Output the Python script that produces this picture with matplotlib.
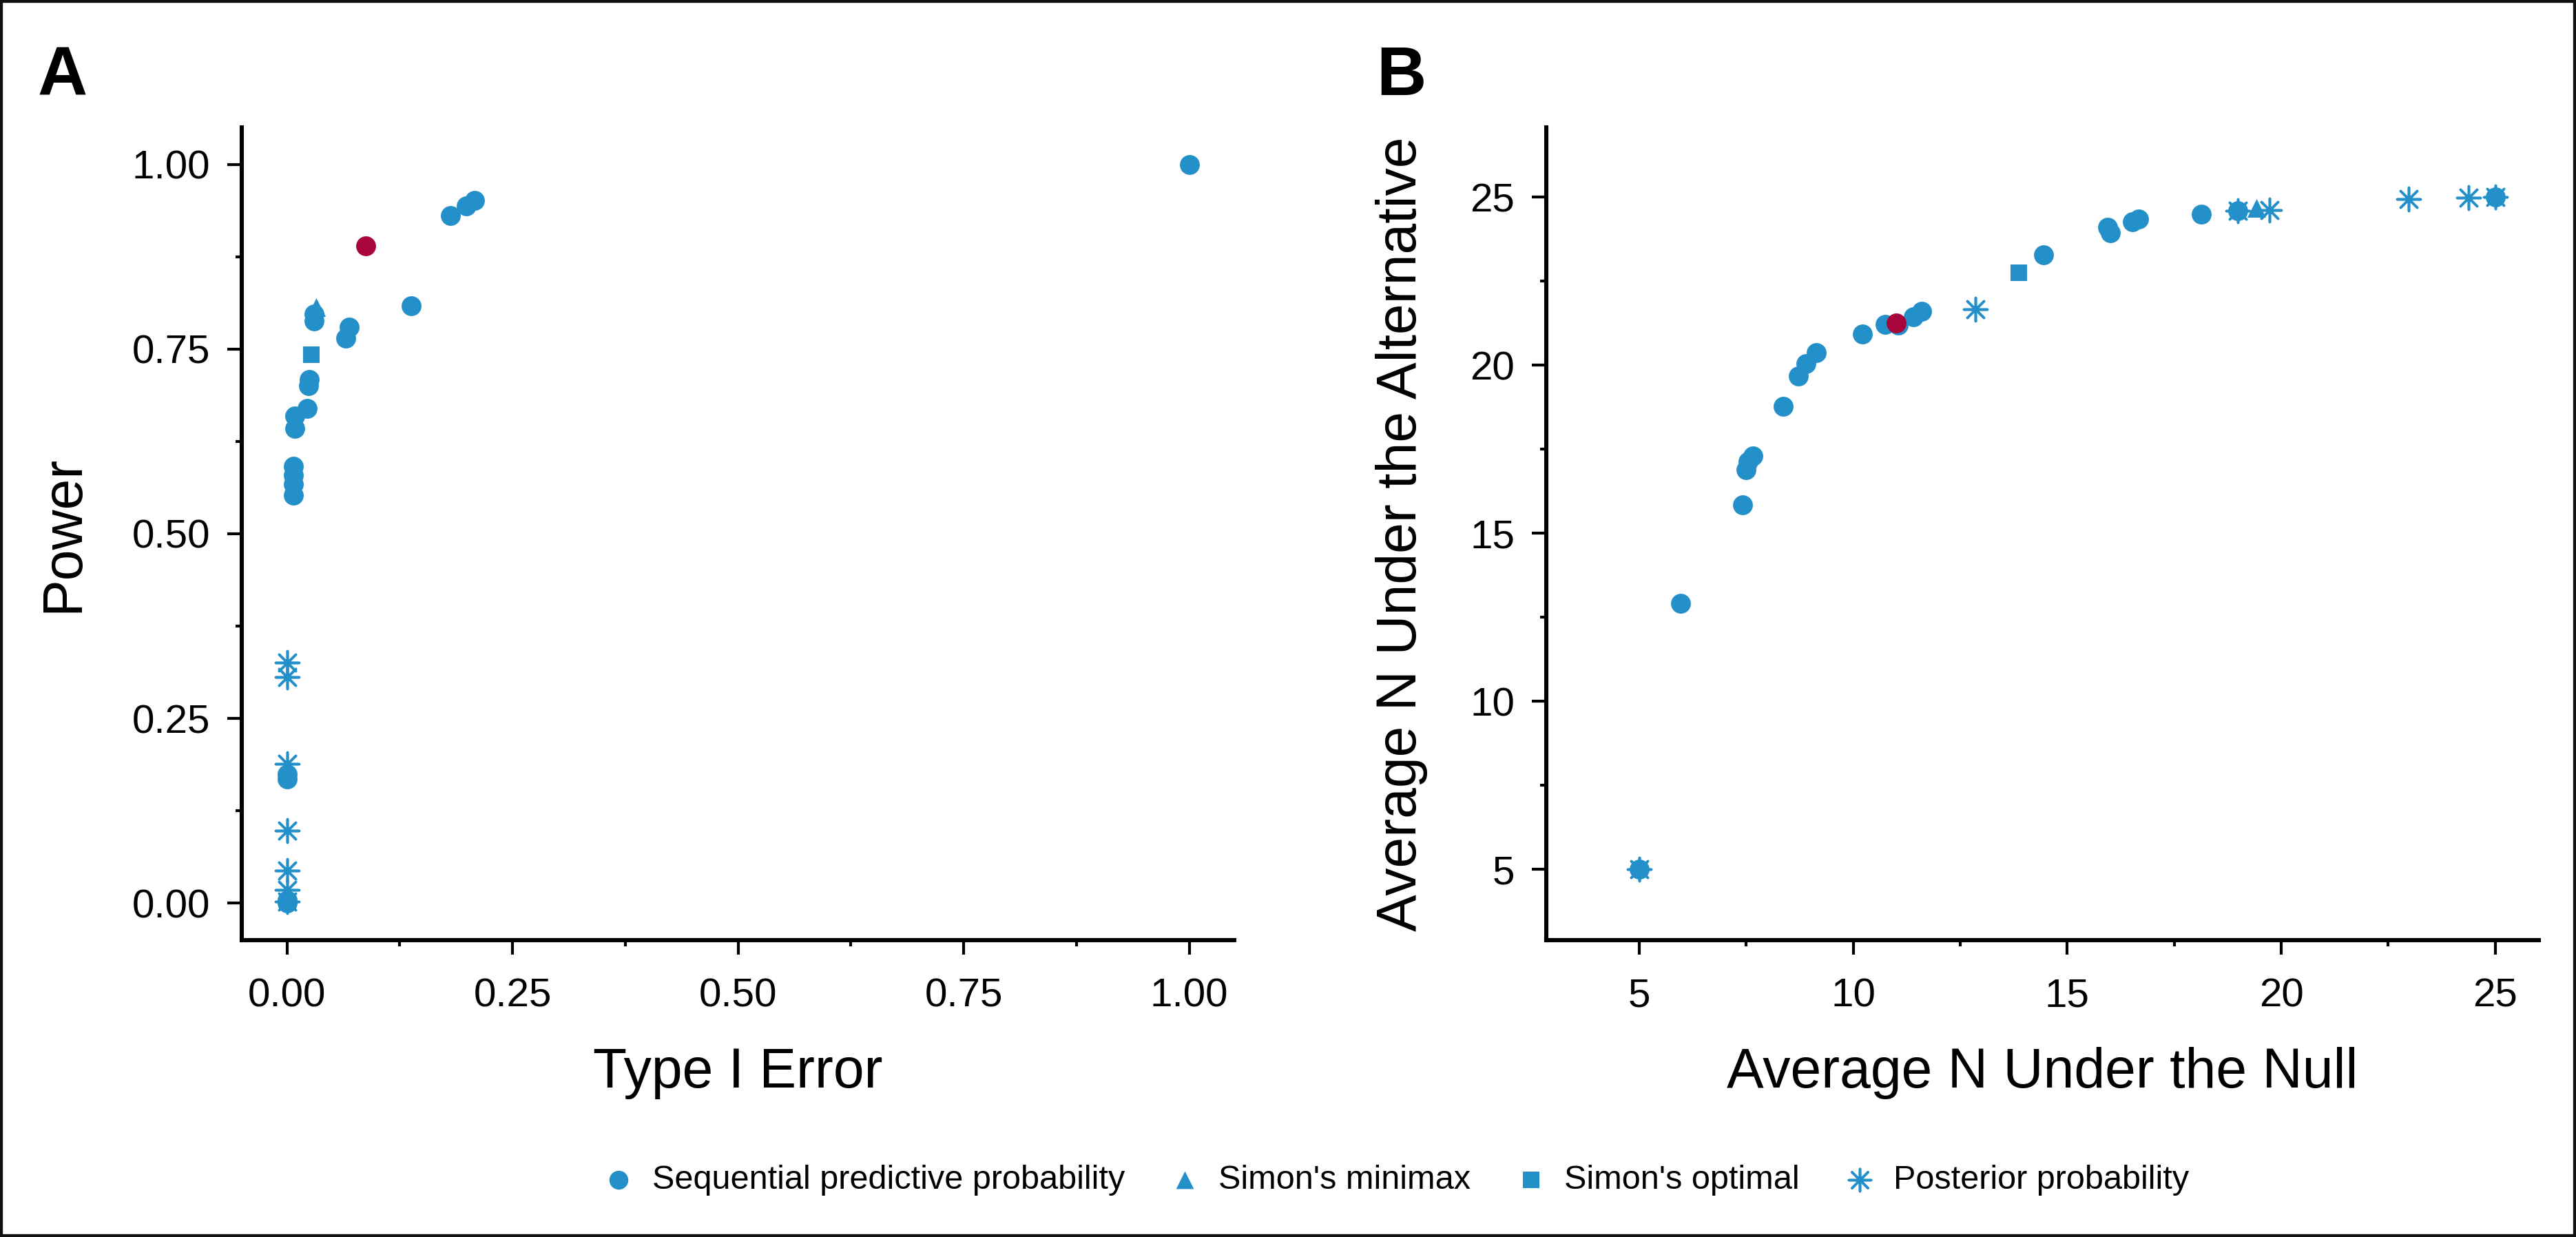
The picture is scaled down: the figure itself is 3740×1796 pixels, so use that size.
import matplotlib

matplotlib.use("Agg")
import matplotlib.pyplot as plt
from matplotlib.patches import Rectangle
from matplotlib.ticker import FixedLocator

plt.rcParams["font.family"] = ["Liberation Sans", "DejaVu Sans"]

BLUE = "#2490C9"
RED = "#A8063A"

# Panel A: type I error vs power
a_seq_x = [1.0, 0.208, 0.199, 0.181, 0.138, 0.030, 0.030, 0.069, 0.065, 0.025, 0.024,
           0.022, 0.009, 0.009, 0.007, 0.007, 0.007, 0.007, 0.0, 0.0, 0.0, 0.0]
a_seq_y = [1.0, 0.951, 0.944, 0.931, 0.809, 0.797, 0.788, 0.780, 0.765, 0.709, 0.700,
           0.670, 0.659, 0.643, 0.591, 0.579, 0.567, 0.552, 0.175, 0.168, 0.004, 0.0]
a_minimax_x = [0.032]
a_minimax_y = [0.807]
a_optimal_x = [0.027]
a_optimal_y = [0.742]
a_post_x = [0.0, 0.0, 0.0, 0.0, 0.0, 0.0, 0.0]
a_post_y = [0.326, 0.306, 0.189, 0.098, 0.044, 0.018, 0.002]
a_chosen_x = [0.087]
a_chosen_y = [0.890]

# Panel B: average N under null vs alternative
b_seq_x = [5.0, 5.97, 7.42, 7.50, 7.55, 7.65, 8.37, 8.71, 8.89, 9.13, 10.22, 10.75, 11.05,
           11.40, 11.60, 14.44, 15.95, 16.00, 16.52, 16.66, 18.14, 18.99, 25.0]
b_seq_y = [5.0, 12.91, 15.85, 16.90, 17.15, 17.30, 18.78, 19.69, 20.05, 20.37, 20.94, 21.21, 21.20,
           21.45, 21.60, 23.29, 24.10, 23.95, 24.28, 24.35, 24.50, 24.60, 25.0]
b_minimax_x = [19.42]
b_minimax_y = [24.68]
b_optimal_x = [13.87]
b_optimal_y = [22.75]
b_post_x = [5.0, 12.86, 18.99, 19.73, 22.97, 24.38, 25.0]
b_post_y = [5.0, 21.67, 24.60, 24.62, 24.95, 24.99, 25.0]
b_chosen_x = [11.0]
b_chosen_y = [21.27]

a_ticks = [0.0, 0.25, 0.5, 0.75, 1.0]
a_ticklabels = ["0.00", "0.25", "0.50", "0.75", "1.00"]
b_ticks = [5, 10, 15, 20, 25]

labels = ["Sequential predictive probability", "Simon's minimax",
          "Simon's optimal", "Posterior probability"]

asterisk = (8, 2, 0)

fig = plt.figure(figsize=(18.7, 8.98), dpi=200)
axA = fig.add_axes([0.0939, 0.24, 0.3853, 0.657])
axB = fig.add_axes([0.6003, 0.24, 0.3853, 0.657])


def draw_panel(ax, seq, mini, opt, post, chosen):
    handles = []
    handles.append(ax.scatter(*seq, s=108, marker="o", color=BLUE, linewidths=0, zorder=3))
    handles.append(ax.scatter(*mini, s=95, marker="^", color=BLUE, linewidths=0, zorder=4))
    handles.append(ax.scatter(*opt, s=80, marker="s", color=BLUE, linewidths=0, zorder=4))
    handles.append(ax.scatter(*post, s=150, marker=asterisk, color=BLUE, linewidths=1.3, zorder=5))
    ax.scatter(*chosen, s=108, marker="o", color=RED, linewidths=0, zorder=6)
    return handles


def style_axes(ax, xticks, xlabels, yticks, ylabels):
    for side in ["top", "right"]:
        ax.spines[side].set_visible(False)
    for side in ["left", "bottom"]:
        ax.spines[side].set_linewidth(2.2)
    ax.set_xticks(xticks)
    ax.set_xticklabels(xlabels)
    ax.set_yticks(yticks)
    ax.set_yticklabels(ylabels)
    # minor ticks half way between the majors
    xs = [(xticks[i] + xticks[i + 1]) / 2 for i in range(len(xticks) - 1)]
    ys = [(yticks[i] + yticks[i + 1]) / 2 for i in range(len(yticks) - 1)]
    ax.xaxis.set_minor_locator(FixedLocator(xs))
    ax.yaxis.set_minor_locator(FixedLocator(ys))
    ax.tick_params(which="major", length=7.5, width=1.5, labelsize=21)
    ax.tick_params(axis="x", which="major", pad=12)
    ax.tick_params(axis="y", which="major", pad=9)
    ax.tick_params(which="minor", length=3.2, width=1.5)


handles = draw_panel(axA, (a_seq_x, a_seq_y), (a_minimax_x, a_minimax_y),
                     (a_optimal_x, a_optimal_y), (a_post_x, a_post_y),
                     (a_chosen_x, a_chosen_y))
draw_panel(axB, (b_seq_x, b_seq_y), (b_minimax_x, b_minimax_y),
           (b_optimal_x, b_optimal_y), (b_post_x, b_post_y),
           (b_chosen_x, b_chosen_y))

style_axes(axA, a_ticks, a_ticklabels, a_ticks, a_ticklabels)
axA.set_xlim(-0.05, 1.05)
axA.set_ylim(-0.05, 1.05)
axA.set_xlabel("Type I Error", fontsize=29, labelpad=17)
axA.set_ylabel("Power", fontsize=29, labelpad=22)

style_axes(axB, b_ticks, [str(t) for t in b_ticks], b_ticks, [str(t) for t in b_ticks])
axB.set_xlim(2.83, 26.02)
axB.set_ylim(2.9, 27.08)
axB.set_xlabel("Average N Under the Null", fontsize=29, labelpad=17)
axB.set_ylabel("Average N Under the Alternative", fontsize=29, labelpad=22)

# panel letters
fig.text(55 / 3740, 1 - 138 / 1796, "A", fontsize=36, fontweight="bold", va="baseline")
fig.text(1998 / 3740, 1 - 138 / 1796, "B", fontsize=36, fontweight="bold", va="baseline")

fig.legend(handles, labels, loc="center", bbox_to_anchor=(2026 / 3740, 1 - 1713 / 1796),
           ncol=4, frameon=False, fontsize=17.5, handlelength=1.0, handletextpad=0.5,
           columnspacing=1.3, markerscale=0.95)

# black frame round the whole figure
fig.patches.append(Rectangle((0, 0), 1, 1, transform=fig.transFigure, fill=False,
                             linewidth=3, edgecolor="#111111"))

fig.savefig("out.png", dpi=200)
